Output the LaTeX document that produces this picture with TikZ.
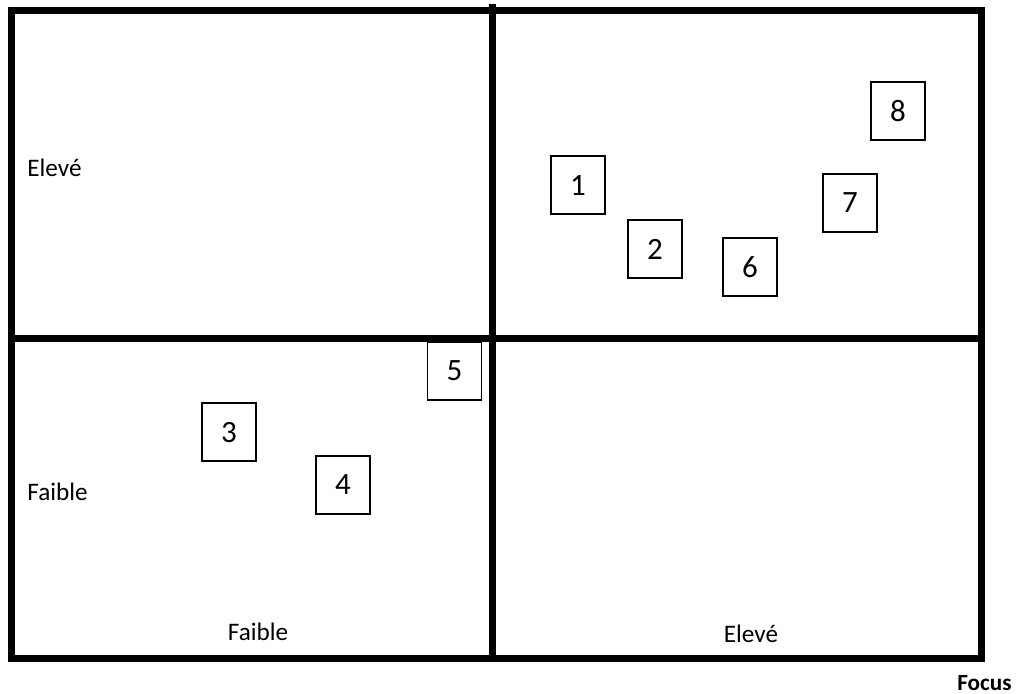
\documentclass[tikz,border=0pt]{standalone}
\usepackage{fontspec}
\setmainfont{Carlito}
\usetikzlibrary{positioning}

\begin{document}
\begin{tikzpicture}[
  x=0.5pt, y=-0.5pt,
  frame/.style={line width=3.5pt, black},
  item/.style={rectangle, draw=black, line width=1pt, fill=white,
               minimum width=27pt, minimum height=29pt, inner sep=0pt,
               font=\fontsize{15.5}{17}\selectfont},
  axlab/.style={font=\fontsize{12.6}{14}\selectfont, inner sep=0pt}
]
\useasboundingbox (0,0) rectangle (1018,694);

% quadrant frame
\draw[frame] (11.5,10.5) rectangle (981.5,658.5);
\draw[frame] (492,4) -- (492,658.5);
\draw[frame] (11.5,339) -- (981.5,339);

% items
\node[item] (i1) at (578,185.5) {1};
\node[item] (i2) at (655,249.5) {2};
\node[item] (i6) at (750,267) {6};
\node[item] (i7) at (850,203) {7};
\node[item] (i8) at (898,111) {8};
\node[item, line width=0.6pt] (i5) at (454.5,371) {5};
\node[item] (i3) at (229,432.5) {3};
\node[item] (i4) at (343,485) {4};

% axis labels
\node[axlab, anchor=west] (yhigh) at (27,168) {Elevé};
\node[axlab, anchor=west] (ylow)  at (27,492) {Faible};
\node[axlab] (xlow)  at (258,632) {Faible};
\node[axlab] (xhigh) at (751,634) {Elevé};
\node[axlab, anchor=east, font=\bfseries\fontsize{11.6}{13}\selectfont] (focus) at (1012,683) {Focus};

\end{tikzpicture}
\end{document}
